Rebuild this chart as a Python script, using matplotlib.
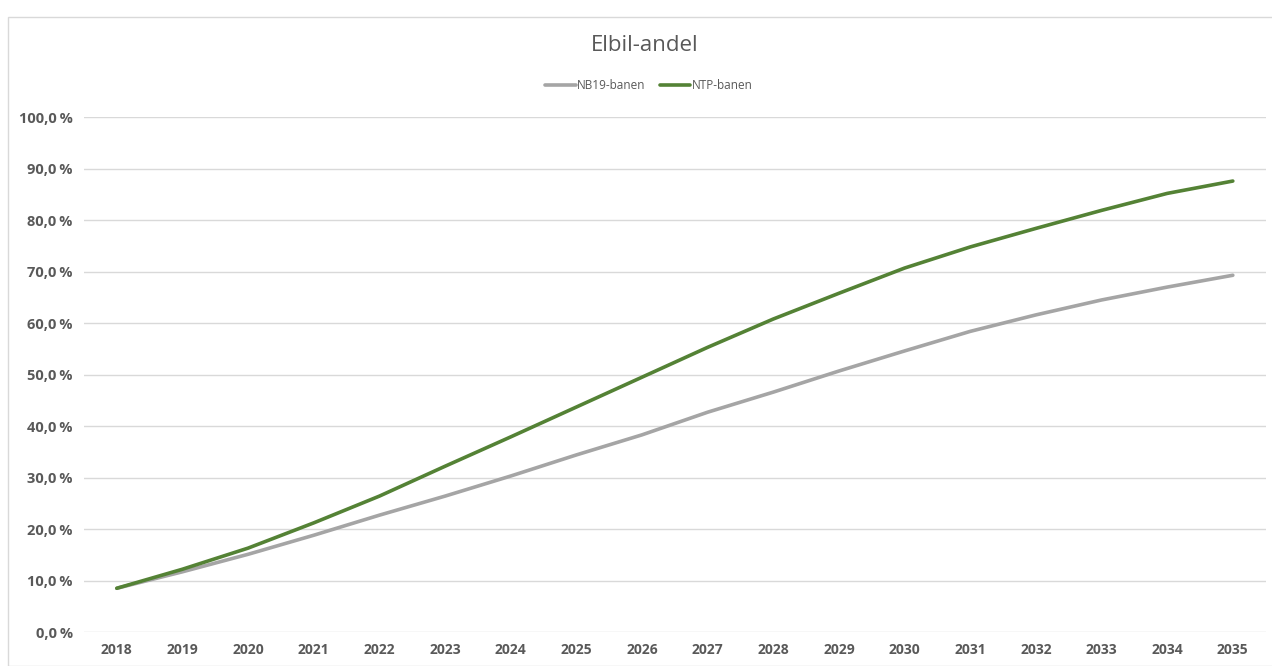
import matplotlib
matplotlib.use("Agg")
from matplotlib import pyplot as plt
from matplotlib.patches import Rectangle
from matplotlib.ticker import FuncFormatter

years = [str(y) for y in range(2018, 2036)]
nb19 = [8.5, 11.7, 15.1, 18.8, 22.7, 26.4, 30.3, 34.4, 38.3, 42.7,
        46.6, 50.7, 54.6, 58.4, 61.6, 64.5, 67.0, 69.3]
ntp = [8.5, 12.2, 16.3, 21.2, 26.4, 32.2, 37.9, 43.7, 49.5, 55.3,
       60.8, 65.8, 70.7, 74.8, 78.4, 81.9, 85.2, 87.6]

plt.rcParams['font.family'] = ['Open Sans', 'DejaVu Sans']
txt = '#595959'

fig = plt.figure(figsize=(12.72, 6.66), dpi=100)
ax = fig.add_axes([0.066, 0.051, 0.929, 0.773])

# light chart-area border like the spreadsheet export
fig.patches.append(Rectangle((8 / 1272, 0), 1.0, 1 - 17 / 666, transform=fig.transFigure,
                             fill=False, edgecolor='#d9d9d9', linewidth=1))

x = list(range(len(years)))
ax.plot(x, nb19, color='#a5a5a5', linewidth=2.6, label='NB19-banen', solid_capstyle='round')
ax.plot(x, ntp, color='#548235', linewidth=2.6, label='NTP-banen', solid_capstyle='round')

ax.set_xlim(-0.5, len(years) - 0.5)
ax.set_ylim(0, 100)
ax.set_yticks(range(0, 101, 10))
ax.yaxis.set_major_formatter(FuncFormatter(lambda v, p: f'{v:.1f}\u2009%'.replace('.', ',')))
ax.set_xticks(x)
ax.set_xticklabels(years)
ax.grid(axis='y', color='#d9d9d9', linewidth=1)
ax.set_axisbelow(True)
for s in ['top', 'right', 'left', 'bottom']:
    ax.spines[s].set_visible(False)
ax.tick_params(length=0, colors=txt, labelsize=10, pad=8)
ax.tick_params(axis='y', labelsize=10.5)
for lab in ax.get_xticklabels() + ax.get_yticklabels():
    lab.set_fontweight('bold')

fig.text(0.507, 0.932, 'Elbil-andel', ha='center', va='center', fontsize=16, color=txt)
leg = fig.legend(loc='center', bbox_to_anchor=(0.51, 0.872), ncol=2, frameon=False,
                 fontsize=8.5, handlelength=2.6, handletextpad=0.1, columnspacing=1.2)
for t in leg.get_texts():
    t.set_color(txt)

fig.savefig('out.png', dpi=100)
